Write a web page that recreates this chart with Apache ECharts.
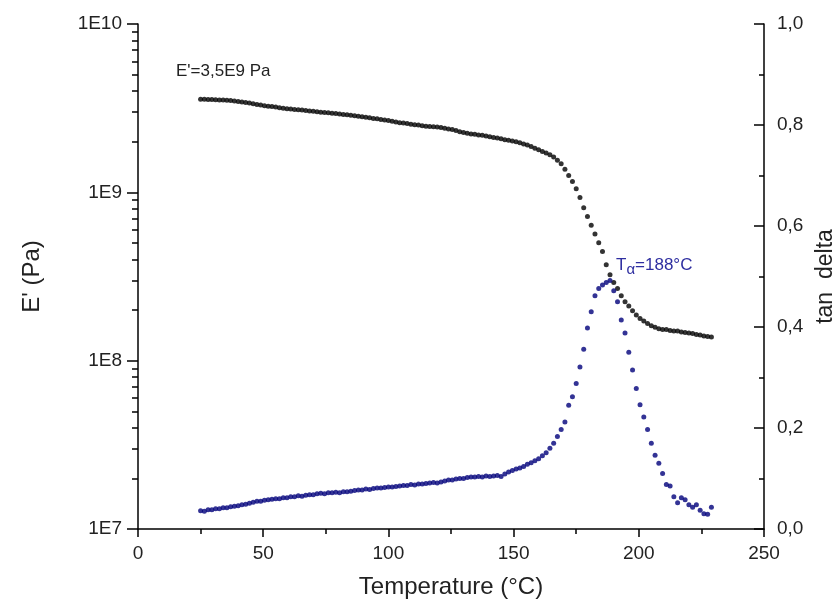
<!DOCTYPE html>
<html><head><meta charset="utf-8">
<script src="https://cdn.jsdelivr.net/npm/echarts@6/dist/echarts.min.js"></script>
<style>html,body{margin:0;padding:0;background:#fff}#c{width:835px;height:605px}</style>
</head><body><div id="c"></div>
<script>
const temperature = [25,26.5,28,29.5,31,32.5,34,35.5,37,38.5,40,41.5,43,44.5,46,47.5,49,50.5,52,53.5,55,56.5,58,59.5,61,62.5,64,65.5,67,68.5,70,71.5,73,74.5,76,77.5,79,80.5,82,83.5,85,86.5,88,89.5,91,92.5,94,95.5,97,98.5,100,101.5,103,104.5,106,107.5,109,110.5,112,113.5,115,116.5,118,119.5,121,122.5,124,125.5,127,128.5,130,131.5,133,134.5,136,137.5,139,140.5,142,143.5,145,146.5,148,149.5,151,152.5,154,155.5,157,158.5,160,161.5,163,164.5,166,167.5,169,170.5,172,173.5,175,176.5,178,179.5,181,182.5,184,185.5,187,188.5,190,191.5,193,194.5,196,197.5,199,200.5,202,203.5,205,206.5,208,209.5,211,212.5,214,215.5,217,218.5,220,221.5,223,224.5,226,227.5,229];
const storageModulus = [3.57e9,3.57e9,3.56e9,3.56e9,3.55e9,3.54e9,3.53e9,3.52e9,3.51e9,3.49e9,3.47e9,3.44e9,3.42e9,3.39e9,3.36e9,3.33e9,3.30e9,3.27e9,3.25e9,3.23e9,3.21e9,3.18e9,3.16e9,3.14e9,3.13e9,3.11e9,3.09e9,3.08e9,3.06e9,3.04e9,3.03e9,3.01e9,2.99e9,2.98e9,2.97e9,2.95e9,2.94e9,2.92e9,2.90e9,2.89e9,2.87e9,2.85e9,2.83e9,2.81e9,2.79e9,2.77e9,2.75e9,2.74e9,2.71e9,2.69e9,2.67e9,2.64e9,2.62e9,2.59e9,2.58e9,2.56e9,2.54e9,2.52e9,2.51e9,2.49e9,2.47e9,2.46e9,2.45e9,2.44e9,2.43e9,2.40e9,2.38e9,2.36e9,2.33e9,2.29e9,2.27e9,2.24e9,2.22e9,2.21e9,2.19e9,2.18e9,2.16e9,2.14e9,2.12e9,2.10e9,2.08e9,2.05e9,2.04e9,2.02e9,2.00e9,1.97e9,1.94e9,1.91e9,1.87e9,1.83e9,1.79e9,1.75e9,1.71e9,1.67e9,1.62e9,1.55e9,1.48e9,1.37e9,1.26e9,1.16e9,1.05e9,9.31e8,8.09e8,7.18e8,6.37e8,5.65e8,5.01e8,4.45e8,3.72e8,3.24e8,2.91e8,2.68e8,2.43e8,2.24e8,2.11e8,1.98e8,1.87e8,1.78e8,1.72e8,1.66e8,1.61e8,1.58e8,1.55e8,1.53e8,1.53e8,1.51e8,1.50e8,1.50e8,1.48e8,1.47e8,1.46e8,1.45e8,1.43e8,1.42e8,1.40e8,1.39e8,1.38e8];
const tanDelta = [0.036,0.035,0.038,0.038,0.040,0.040,0.042,0.042,0.044,0.045,0.046,0.048,0.049,0.051,0.053,0.055,0.055,0.057,0.058,0.059,0.060,0.060,0.062,0.062,0.064,0.064,0.066,0.065,0.067,0.068,0.068,0.070,0.071,0.070,0.072,0.072,0.073,0.072,0.074,0.074,0.075,0.076,0.077,0.077,0.079,0.078,0.080,0.081,0.081,0.082,0.083,0.083,0.084,0.085,0.086,0.086,0.088,0.087,0.089,0.089,0.090,0.091,0.092,0.091,0.093,0.095,0.097,0.097,0.099,0.100,0.100,0.102,0.103,0.103,0.104,0.103,0.105,0.104,0.105,0.106,0.104,0.109,0.113,0.116,0.119,0.121,0.124,0.128,0.131,0.135,0.139,0.145,0.151,0.160,0.170,0.183,0.197,0.212,0.245,0.262,0.288,0.321,0.356,0.398,0.430,0.462,0.476,0.483,0.488,0.492,0.472,0.450,0.414,0.388,0.350,0.315,0.278,0.246,0.222,0.197,0.170,0.146,0.130,0.110,0.088,0.085,0.064,0.052,0.062,0.058,0.048,0.043,0.048,0.037,0.030,0.029,0.043];
const leftTickLabels = {7:'1E7',8:'1E8',9:'1E9',10:'1E10'};

const FONT = 'Liberation Sans, Arial, sans-serif';
const chart = echarts.init(document.getElementById('c'), null, {renderer:'canvas'});
const axisLineStyle = {color:'#000', width:1.5};
chart.setOption({
  animation:false,
  backgroundColor:'#fff',
  textStyle:{fontFamily:FONT},
  grid:{left:138, right:71, top:24, bottom:76, containLabel:false, outerBoundsMode:'none'},
  xAxis:{
    type:'value', min:0, max:250, interval:50,
    axisLine:{show:true, onZero:false, lineStyle:axisLineStyle},
    axisTick:{show:true, length:8, lineStyle:axisLineStyle},
    minorTick:{show:true, splitNumber:2, length:5, lineStyle:axisLineStyle},
    splitLine:{show:false},
    axisLabel:{color:'#222', fontSize:19, margin:15, fontFamily:FONT},
    name:'Temperature (°C)', nameLocation:'middle', nameGap:46,
    nameTextStyle:{color:'#222', fontSize:24, fontFamily:FONT}
  },
  yAxis:[{
    type:'log', logBase:10, min:1e7, max:1e10, position:'left',
    axisLine:{show:true, lineStyle:axisLineStyle},
    axisTick:{show:true, length:11, lineStyle:axisLineStyle},
    minorTick:{show:true, splitNumber:9, length:6, lineStyle:axisLineStyle},
    splitLine:{show:false},
    axisLabel:{color:'#222', fontSize:19, margin:16, fontFamily:FONT,
      formatter:v=>leftTickLabels[Math.round(Math.log10(v))]||''},
    name:"E' (Pa)", nameLocation:'middle', nameGap:94, nameRotate:90,
    nameTextStyle:{color:'#222', fontSize:24, fontFamily:FONT}
  },{
    type:'value', min:0, max:1, interval:0.2, position:'right',
    axisLine:{show:true, lineStyle:axisLineStyle},
    axisTick:{show:true, inside:true, length:10, lineStyle:axisLineStyle},
    minorTick:{show:true, splitNumber:2, length:5, lineStyle:axisLineStyle},
    splitLine:{show:false},
    axisLabel:{color:'#222', fontSize:19, margin:13, fontFamily:FONT,
      formatter:v=>v.toFixed(1).replace('.', ',')},
    name:'tan  delta', nameLocation:'middle', nameGap:40, nameRotate:90,
    nameTextStyle:{color:'#222', fontSize:23, fontFamily:FONT}
  }],
  series:[{
    type:'scatter', yAxisIndex:0, symbol:'circle', symbolSize:5,
    itemStyle:{color:'#000'},
    data:temperature.map((t,i)=>[t, storageModulus[i]])
  },{
    type:'scatter', yAxisIndex:1, symbol:'circle', symbolSize:5,
    itemStyle:{color:'#00007a'},
    data:temperature.map((t,i)=>[t, tanDelta[i]])
  }],
  graphic:[{
    type:'text', left:176, top:63,
    style:{text:"E'=3,5E9 Pa", fill:'#222', font:'17px '+FONT}
  },{
    type:'text', left:616, top:257,
    style:{text:'T{s|α}=188°C', fill:'#2e2ea0', font:'17px '+FONT,
      rich:{s:{fontSize:15, fill:'#2e2ea0', padding:[9,0,0,0], fontFamily:FONT}}}
  }]
});
</script></body></html>
